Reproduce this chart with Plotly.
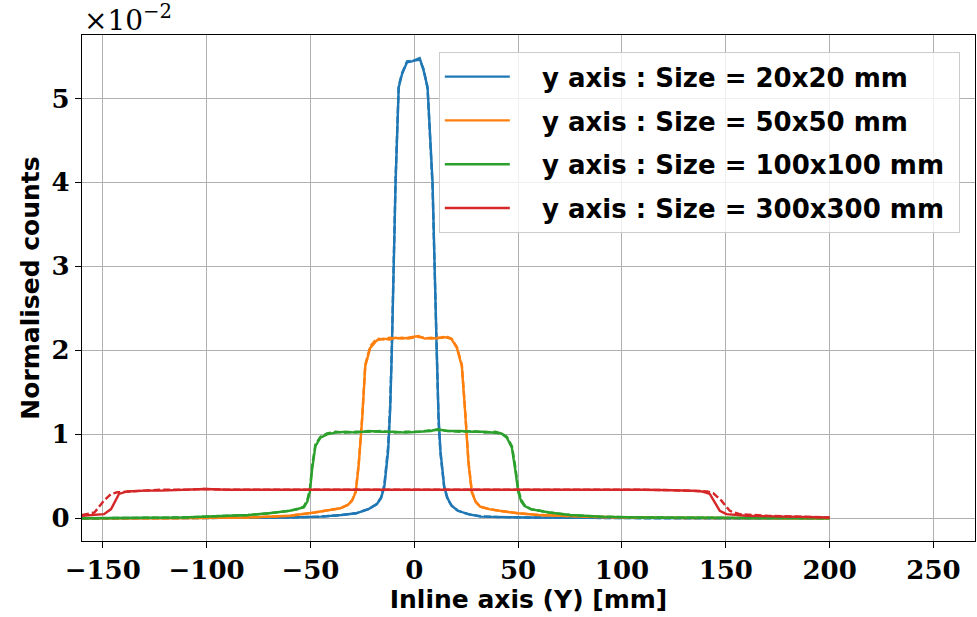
import plotly.graph_objects as go

# Profiles along the inline (Y) axis; counts expressed in units of 1e-2.
COLORS = ["#1f77b4", "#ff7f0e", "#2ca02c", "#d62728"]
LABELS = [
    "y axis : Size = 20x20 mm",
    "y axis : Size = 50x50 mm",
    "y axis : Size = 100x100 mm",
    "y axis : Size = 300x300 mm",
]

# 20x20 mm field
blue_x = [-160, -120, -90, -60, -45, -35, -28, -22, -18, -16, -14.4, -12.6, -11.6, -10.8, -9.0,
          -7.5, -5.9, -3.5, -1.1, 2.6, 4.5, 6.4, 8.8, 10.8, 11.7, 12.6, 14.4, 16, 18, 21, 26, 32,
          40, 55, 80, 120, 160, 200]
blue_y = [0.0, 0.0, 0.005, 0.01, 0.02, 0.04, 0.06, 0.11, 0.17, 0.24, 0.38, 0.8, 1.3, 2.0, 4.0,
          5.13, 5.29, 5.43, 5.44, 5.48, 5.33, 5.13, 4.0, 2.0, 1.2, 0.8, 0.38, 0.24, 0.15, 0.09,
          0.05, 0.02, 0.015, 0.01, 0.005, 0.0, 0.0, 0.005]
blue_y_dash = [0.0, 0.0, 0.005, 0.01, 0.02, 0.04, 0.06, 0.11, 0.17, 0.25, 0.40, 0.85, 1.35, 2.05, 4.05,
               5.15, 5.30, 5.44, 5.45, 5.46, 5.35, 5.12, 3.95, 1.95, 1.15, 0.78, 0.37, 0.23, 0.15, 0.09,
               0.05, 0.025, 0.015, 0.01, 0.005, 0.0, 0.0, 0.005]

# 50x50 mm field
orange_x = [-160, -120, -80, -60, -48, -40, -35.6, -32, -30, -28.2, -26.8, -25.1, -23.6, -21.2,
            -18, -15, -12, -9, -6, -3, 0, 2, 5, 8, 11, 14, 16, 18, 20.5, 22.9, 24.5, 26.1, 27.7,
            29.5, 31.7, 36, 41, 50, 60, 73, 90, 120, 160, 200]
orange_y = [0.0, 0.0, 0.01, 0.03, 0.07, 0.1, 0.12, 0.16, 0.21, 0.31, 0.62, 1.18, 1.81, 2.03,
            2.12, 2.14, 2.13, 2.15, 2.14, 2.15, 2.16, 2.17, 2.14, 2.15, 2.14, 2.16, 2.15, 2.13,
            2.03, 1.81, 1.26, 0.66, 0.31, 0.2, 0.14, 0.11, 0.09, 0.06, 0.04, 0.03, 0.015, 0.005,
            0.0, 0.0]
orange_y_dash = [0.0, 0.0, 0.01, 0.03, 0.07, 0.1, 0.12, 0.16, 0.21, 0.32, 0.64, 1.2, 1.83, 2.05,
                 2.14, 2.13, 2.15, 2.14, 2.15, 2.14, 2.15, 2.16, 2.15, 2.14, 2.15, 2.15, 2.16, 2.14,
                 2.04, 1.83, 1.28, 0.68, 0.32, 0.2, 0.14, 0.11, 0.09, 0.06, 0.04, 0.03, 0.015, 0.005,
                 0.0, 0.0]

# 100x100 mm field
green_x = [-160, -112, -80, -70, -60, -56, -53.2, -51.5, -50.3, -49.2, -47.6, -45.2, -42, -38,
           -33, -28, -22, -16, -10, -4, 2, 8, 11, 16, 22, 28, 34, 39, 42, 44.6, 47, 48.6, 50.1,
           51.5, 53, 56, 60, 65, 75, 90, 110, 140, 170, 200]
green_y = [0.0, 0.01, 0.04, 0.06, 0.09, 0.11, 0.13, 0.2, 0.31, 0.58, 0.86, 0.96, 1.0, 1.02,
           1.03, 1.02, 1.04, 1.03, 1.03, 1.02, 1.03, 1.04, 1.06, 1.04, 1.04, 1.03, 1.03, 1.02,
           1.01, 0.96, 0.84, 0.58, 0.31, 0.2, 0.15, 0.11, 0.09, 0.07, 0.04, 0.02, 0.01, 0.005,
           0.0, 0.0]
green_y_dash = [0.0, 0.01, 0.04, 0.06, 0.09, 0.11, 0.14, 0.22, 0.34, 0.62, 0.88, 0.97, 1.01, 1.03,
                1.02, 1.03, 1.03, 1.04, 1.02, 1.03, 1.03, 1.05, 1.05, 1.04, 1.03, 1.04, 1.02, 1.03,
                1.01, 0.97, 0.86, 0.62, 0.34, 0.22, 0.16, 0.11, 0.09, 0.07, 0.04, 0.02, 0.01, 0.005,
                0.0, 0.0]

# 300x300 mm field
red_x = [-160, -154, -149.4, -146, -143.8, -142.2, -138.2, -130, -122, -110, -101, -90, -74, -50,
         -30, 0, 30, 60, 90, 110, 125, 137.5, 140, 142.3, 144.7, 147.1, 150.3, 160, 180, 200]
red_y = [0.03, 0.04, 0.05, 0.11, 0.21, 0.29, 0.32, 0.33, 0.33, 0.34, 0.35, 0.34, 0.34, 0.34,
         0.34, 0.337, 0.34, 0.34, 0.345, 0.34, 0.335, 0.325, 0.31, 0.29, 0.19, 0.09, 0.05, 0.03,
         0.02, 0.01]
red_x_dash = [-160, -154, -149.4, -146, -143, -138.2, -130, -122, -110, -101, -90, -74, -50, -30,
              0, 30, 60, 90, 110, 125, 137.5, 141, 143.9, 147.9, 151.9, 156.7, 170, 185, 200]
red_y_dash = [0.04, 0.07, 0.21, 0.29, 0.31, 0.32, 0.33, 0.34, 0.34, 0.35, 0.34, 0.34, 0.34, 0.34,
              0.34, 0.34, 0.345, 0.345, 0.34, 0.335, 0.33, 0.32, 0.30, 0.21, 0.09, 0.05, 0.03,
              0.02, 0.01]

x_ticks = [-150, -100, -50, 0, 50, 100, 150, 200, 250]
y_ticks = [0, 1, 2, 3, 4, 5]

solid = [(blue_x, blue_y), (orange_x, orange_y), (green_x, green_y), (red_x, red_y)]
dashed = [(blue_x, blue_y_dash), (orange_x, orange_y_dash), (green_x, green_y_dash),
          (red_x_dash, red_y_dash)]

NBSP = "\u00a0"

fig = go.Figure()
for i, ((xs, ys), (xd, yd)) in enumerate(zip(solid, dashed)):
    fig.add_trace(go.Scatter(
        x=xs, y=ys, mode="lines", name=NBSP * 3 + LABELS[i] + NBSP, legendgroup=f"g{i}",
        line=dict(color=COLORS[i], width=2.4),
    ))
    fig.add_trace(go.Scatter(
        x=xd, y=yd, mode="lines", showlegend=False, legendgroup=f"g{i}",
        line=dict(color=COLORS[i], width=2.4, dash="7px,3px"),
    ))

serif = dict(family="DejaVu Serif", size=26, color="black", weight="bold")
sans = dict(family="DejaVu Sans", size=25, color="black", weight="bold")
legend_font = dict(family="DejaVu Sans", size=26, color="black", weight="bold")

axis_common = dict(
    showgrid=True, gridcolor="#b0b0b0", gridwidth=1,
    showline=True, linecolor="black", linewidth=1.2, mirror=True,
    ticks="outside", ticklen=6, tickwidth=1.2, tickcolor="black",
    zeroline=False, tickfont=serif,
)

fig.update_xaxes(
    range=[-160, 270], tickvals=x_ticks,
    title=dict(text="Inline axis (Y) [mm]", font=sans, standoff=6),
    **axis_common,
)
fig.update_yaxes(
    range=[-0.27, 5.755], tickvals=y_ticks,
    title=dict(text="Normalised counts", font=sans, standoff=4),
    **axis_common,
)

fig.add_annotation(
    text="×10<sup>−2</sup>", xref="paper", yref="paper", x=0, y=1,
    xanchor="left", yanchor="bottom", showarrow=False, yshift=-4,
    font=dict(family="DejaVu Serif", size=28, color="black"),
)

fig.update_layout(
    width=977, height=617,
    margin=dict(l=82, r=2, t=35, b=76),
    plot_bgcolor="white", paper_bgcolor="white",
    showlegend=True,
    legend=dict(
        x=0.983, y=0.966, xanchor="right", yanchor="top",
        bgcolor="rgba(255,255,255,0.8)", bordercolor="#cccccc", borderwidth=1,
        font=legend_font, traceorder="grouped", tracegroupgap=7, itemwidth=65,
    ),
)

fig.write_html("out.html")
